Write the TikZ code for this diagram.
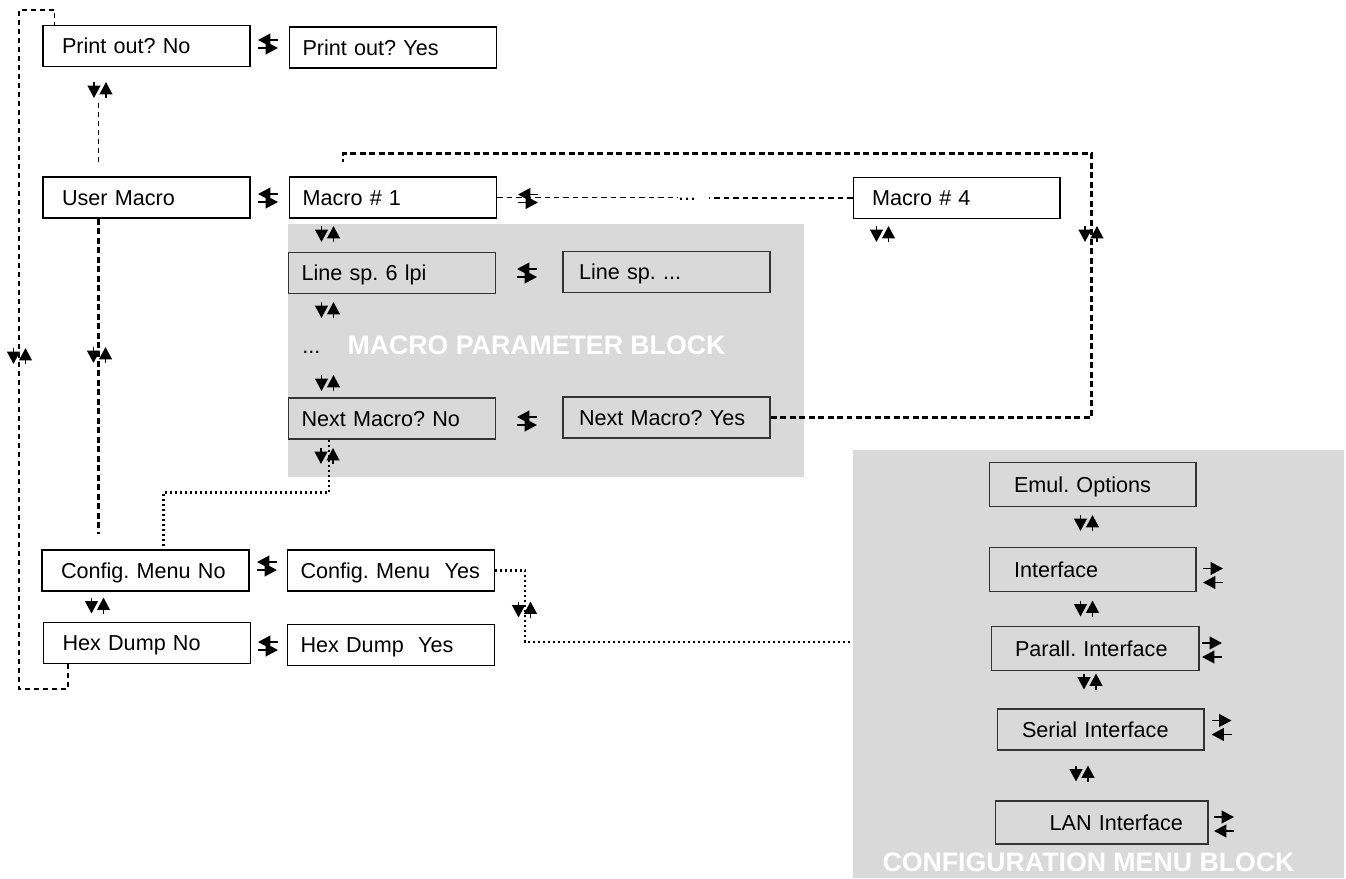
\documentclass[tikz,border=0pt]{standalone}
\usepackage{fontspec}
\setmainfont{Liberation Sans}
\usetikzlibrary{arrows.meta,calc}

\definecolor{blockgray}{RGB}{217,217,217}
\newcommand{\menufont}{\fontsize{12.3}{14}\selectfont\frenchspacing}
\newcommand{\blockfont}{\fontsize{15.2}{17}\selectfont\bfseries}

% arrow pairs: down/up, left-over-right, right-over-left
\newcommand{\udpair}[1]{%
  \draw[pairarrow] ($(#1)+(-6,-8)$) -- ($(#1)+(-6,8)$);
  \draw[pairarrow] ($(#1)+(6,8)$) -- ($(#1)+(6,-8)$);}
\newcommand{\lrpair}[1]{%
  \draw[pairarrow] ($(#1)+(10,-4)$) -- ($(#1)+(-10,-4)$);
  \draw[pairarrow] ($(#1)+(-10,4)$) -- ($(#1)+(10,4)$);}
\newcommand{\rlpair}[1]{%
  \draw[pairarrow] ($(#1)+(-10,-7)$) -- ($(#1)+(10,-7)$);
  \draw[pairarrow] ($(#1)+(10,7)$) -- ($(#1)+(-10,7)$);}

\tikzset{
  menubox/.style={draw=black, fill=white, line width=0.6pt, minimum height=0.82cm,
    text width=3.62cm, inner xsep=0.26cm, align=left,
    text height=8.8pt, text depth=0pt, font=\menufont},
  menuwide/.style={menubox, text width=3.38cm, inner xsep=0.38cm},
  parambox/.style={menubox, draw=black!80, fill=blockgray},
  cfgbox/.style={parambox, text width=3.14cm, inner xsep=0.5cm, minimum height=0.88cm},
  blocklabel/.style={text=white, font=\blockfont},
  pairarrow/.style={line width=1pt, -{Triangle[length=7pt,width=7.2pt]}},
  thindash/.style={line width=0.75pt, dash pattern=on 0.1cm off 0.08cm},
  thickdash/.style={line width=1.3pt, dash pattern=on 0.12cm off 0.07cm},
  macdash/.style={line width=0.9pt, dash pattern=on 0.11cm off 0.08cm},
  dotline/.style={line width=1.3pt, dash pattern=on 0.04cm off 0.06cm},
}

\begin{document}
\begin{tikzpicture}[x=0.02cm, y=-0.02cm]
\useasboundingbox (0,0) rectangle (1346,879);

% === Grey blocks ===
\fill[blockgray] (288,224) rectangle (804,477);
\fill[blockgray] (853,450) rectangle (1344,878);
\node[blocklabel] (maclbl) at (536.5,345) {MACRO PARAMETER BLOCK};
\node[blocklabel] (cfglbl) at (1088.5,862.5) {CONFIGURATION MENU BLOCK};

% === Main menu ===
\node[menuwide] (pno) at (146.5,46) {Print out? No};
\node[menubox] (pyes) at (393,47.5) {Print out? Yes};
\node[menuwide] (umac) at (146.5,197.5) {User Macro};
\node[menubox] (mac1) at (393,197.5) {Macro \# 1};
\node[menuwide] (mac4) at (956.5,198) {Macro \# 4};
\node[font=\menufont, inner sep=0pt, anchor=base] (dotsmac) at (687,200) {...};
\node[menuwide] (cmno) at (145.5,570.5) {Config. Menu No};
\node[menubox] (cmyes) at (391,570.5) {Config. Menu\ \ Yes};
\node[menuwide] (hdno) at (147,643) {Hex Dump No};
\node[menubox] (hdyes) at (391,645) {Hex Dump\ \ Yes};

% === Macro parameter block ===
\node[parambox] (lsp6) at (392,273) {Line sp. 6 lpi};
\node[parambox, text width=3.5cm, inner xsep=0.32cm] (lspx) at (666.5,272) {Line sp. ...};
\node[font=\menufont, inner sep=0pt, anchor=base west] (pdots) at (302,353) {...};
\node[parambox] (nmno) at (392,418.5) {Next Macro? No};
\node[parambox, text width=3.5cm, inner xsep=0.32cm] (nmyes) at (666.5,417.5) {Next Macro? Yes};

% === Configuration menu block ===
\node[cfgbox] (emul) at (1092.5,484.5) {Emul. Options};
\node[cfgbox] (iface) at (1092.5,569.5) {Interface};
\node[cfgbox, text width=3.2cm, inner xsep=0.48cm] (parall) at (1095,648.5) {Parall. Interface};
\node[cfgbox, minimum height=0.82cm] (serial) at (1100.5,729.5) {Serial Interface};
\node[cfgbox, minimum height=0.86cm, text width=3.26cm, align=right] (lan) at (1101.5,822.5) {LAN Interface};

% === Connectors ===
% outer loop: Hex Dump back to Print out
\draw[thindash] ($(hdno.south west)+(25,0)$) -- ++(0,25) -| (19,10) -| ($(pno.north west)+(12,0)$);
\draw[thindash] ($(umac.north west)+(56,-14)$) -- ($(pno.south west)+(56,33)$);
\draw[thickdash] ($(umac.south west)+(56,0)$) -- ($(cmno.north west)+(57,-15)$);
% next macro loop
\draw[thickdash] (nmyes.east) -- ++(321,0) |- ($(mac1.north west)+(54,-23)$) -- ++(0,9);
\draw[macdash] (mac1.east) -- (mac1.east -| dotsmac.west);
\draw[macdash] (mac4.west) -- ($(mac4.west -| dotsmac.east)+(13,0)$);
% dotted paths to the configuration menu
\draw[dotline] ($(nmno.south west)+(41,0)$) -- ++(0,53) -| ($(cmno.north west)+(122,0)$);
\coordinate (cfgin) at (853,642);
\draw[dotline] (cmyes.east) -- ++(30,0) |- (cfgin);

% === Arrow pairs ===
\udpair{100,90}
\udpair{19.5,356}
\udpair{99.5,355}
\udpair{327.5,234}
\udpair{327.5,310}
\udpair{327.5,383}
\udpair{327,456}
\udpair{882.5,234}
\udpair{1091,234}
\udpair{97.5,605.5}
\udpair{524.5,609.5}
\udpair{1086.5,523}
\udpair{1086.5,608.5}
\udpair{1090,681.5}
\udpair{1082,773.5}

\lrpair{268,44}
\lrpair{268,198}
\lrpair{528,198.5}
\lrpair{527,273}
\lrpair{527,421}
\lrpair{267,566}
\lrpair{268,646}

\rlpair{1213,575.5}
\rlpair{1212,650}
\rlpair{1221.5,727.5}
\rlpair{1224,824}

\end{tikzpicture}
\end{document}
